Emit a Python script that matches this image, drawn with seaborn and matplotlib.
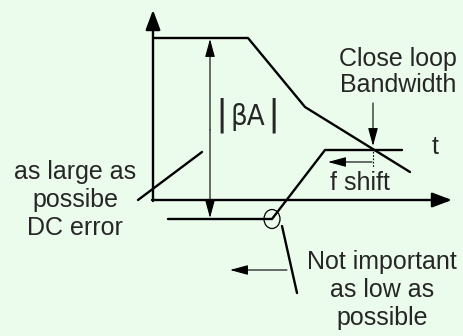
import seaborn as sns
import matplotlib.pyplot as plt
import pandas as pd
from matplotlib.patches import Ellipse

# Diagram vertices (pixel coordinates of the reference, y grows downward)
loop_gain_x = [153, 248, 305, 410]
loop_gain_y = [38, 38, 107, 172]
closed_x = [168, 272, 325, 402]
closed_y = [219, 219, 150, 150]

bg = '#ECFCEC'
sns.set_style('white')
plt.rcParams['font.family'] = ['Liberation Sans', 'DejaVu Sans']

fig = plt.figure(figsize=(4.63, 3.36), dpi=100, facecolor=bg)
ax = fig.add_axes([0, 0, 1, 1])
ax.set_facecolor(bg)
ax.set_xlim(0, 463)
ax.set_ylim(336, 0)
ax.axis('off')

df1 = pd.DataFrame({'x': loop_gain_x, 'y': loop_gain_y})
df2 = pd.DataFrame({'x': closed_x, 'y': closed_y})
sns.lineplot(data=df1, x='x', y='y', sort=False, estimator=None, color='black', lw=1.7, ax=ax)
sns.lineplot(data=df2, x='x', y='y', sort=False, estimator=None, color='black', lw=1.7, ax=ax)

# axes with arrows
big = dict(arrowstyle='-|>,head_length=1.2,head_width=0.45', color='black', lw=1.7,
           shrinkA=0, shrinkB=0, mutation_scale=10)
ax.annotate('', xy=(153, 10), xytext=(153, 201), arrowprops=big)
ax.annotate('', xy=(452, 200), xytext=(152, 200), arrowprops=big)

thin = dict(arrowstyle='-|>,head_length=1.1,head_width=0.3', color='black', lw=0.8,
            shrinkA=0, shrinkB=0, mutation_scale=10)
ax.annotate('', xy=(210, 39), xytext=(210, 130), arrowprops=thin)
ax.annotate('', xy=(210, 218), xytext=(210, 130), arrowprops=thin)
ax.annotate('', xy=(373, 146), xytext=(373, 103), arrowprops=thin)
ax.annotate('', xy=(328, 162), xytext=(372, 162), arrowprops=thin)
ax.annotate('', xy=(230, 270), xytext=(287, 270), arrowprops=thin)
ax.plot([373, 373], [148, 167], color='black', lw=0.8, ls=(0, (1.5, 1.5)))

# pointer lines
ax.plot([138, 202], [200, 152], color='black', lw=1.7)
ax.plot([282, 297], [226, 293], color='black', lw=1.7)
ax.add_patch(Ellipse((272, 219), 16, 19, fill=False, ec='black', lw=0.9))

fs = 18
narrow = ['DejaVu Sans', 'Liberation Sans']
ax.text(222, 115, '|', fontsize=26, ha='center', va='center', family=narrow)
ax.text(248, 117, 'βA', fontsize=21, ha='center', va='center', family=narrow,
        fontstretch='condensed')
ax.text(274, 115, '|', fontsize=26, ha='center', va='center', family=narrow)
ax.text(398, 72, 'Close loop\nBandwidth', fontsize=fs, ha='center', va='center',
        linespacing=1.15)
ax.text(435, 147, 't', fontsize=fs, ha='center', va='center')
ax.text(360, 183, 'f shift', fontsize=fs, ha='center', va='center')
ax.text(75, 200, 'as large as\npossibe\nDC error', fontsize=fs, ha='center', va='center',
        linespacing=1.2)
ax.text(382, 290, 'Not important\nas low as\npossible', fontsize=fs, ha='center', va='center',
        linespacing=1.2)

fig.savefig('out.png', dpi=100, facecolor=bg)
